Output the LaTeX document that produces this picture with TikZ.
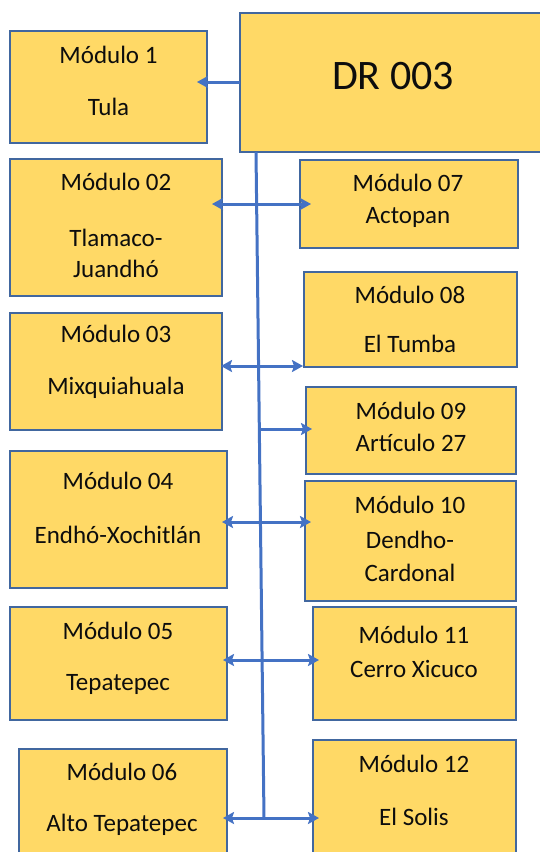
\documentclass[tikz,border=0pt]{standalone}
\usepackage{fontspec}
\setmainfont{Carlito}
\usetikzlibrary{arrows.meta}
\definecolor{boxfill}{HTML}{FFD966}
\definecolor{boxline}{HTML}{41679F}
\definecolor{conn}{HTML}{4472C4}
\definecolor{ink}{HTML}{0D0D0D}
\tikzset{
  box/.style={draw=boxline, fill=boxfill, line width=1.3pt, anchor=north west, inner sep=0pt, outer sep=0pt},
  txt/.style={inner sep=0pt, text=ink, font=\fontsize{25}{30}\selectfont},
  big/.style={inner sep=0pt, text=ink, font=\fontsize{42}{50}\selectfont},
  conline/.style={draw=conn, line width=3pt},
  tip/.style={-{Stealth[length=11pt,width=12pt,inset=2pt]}},
  tips/.style={{Stealth[length=11pt,width=12pt,inset=2pt]}-{Stealth[length=11pt,width=12pt,inset=2pt]}}
}
\begin{document}
\begin{tikzpicture}[x=1pt,y=-1pt]
\useasboundingbox (0,0) rectangle (540,852);
\clip (0,0) rectangle (540,852);
% boxes
\node[box, minimum width=197pt, minimum height=112pt] (m1) at (10,31) {};
\node[box, minimum width=310pt, minimum height=139pt] (dr) at (240,13) {};
\node[box, minimum width=212pt, minimum height=137pt] (m2) at (10,159) {};
\node[box, minimum width=218pt, minimum height=88pt] (m7) at (300,160) {};
\node[box, minimum width=213pt, minimum height=95pt] (m8) at (304,272) {};
\node[box, minimum width=212pt, minimum height=117pt] (m3) at (10,313) {};
\node[box, minimum width=210pt, minimum height=87pt] (m9) at (306,387) {};
\node[box, minimum width=217pt, minimum height=137pt] (m4) at (10,451) {};
\node[box, minimum width=211pt, minimum height=120pt] (m10) at (305,481) {};
\node[box, minimum width=217pt, minimum height=113pt] (m5) at (10,607) {};
\node[box, minimum width=203pt, minimum height=113pt] (m11) at (313,607) {};
\node[box, minimum width=208pt, minimum height=120pt] (m6) at (19,749) {};
\node[box, minimum width=203pt, minimum height=130pt] (m12) at (313,740) {};
% texts
\node[big] (drt) at (393,76) {DR 003};
\node[txt] (m1a) at (108.5,55) {Módulo 1};
\node[txt] (m1b) at (108.5,107) {Tula};
\node[txt] (m2a) at (116,182) {Módulo 02};
\node[txt] (m2b) at (116,238) {Tlamaco-};
\node[txt] (m2c) at (116,269) {Juandhó};
\node[txt] (m7a) at (408,183) {Módulo 07};
\node[txt] (m7b) at (408,217) {Actopan};
\node[txt] (m8a) at (410,295) {Módulo 08};
\node[txt] (m8b) at (410,344) {El Tumba};
\node[txt] (m3a) at (116,334) {Módulo 03};
\node[txt] (m3b) at (116,388) {Mixquiahuala};
\node[txt] (m9a) at (411,411) {Módulo 09};
\node[txt] (m9b) at (411,443) {Artículo 27};
\node[txt] (m4a) at (118,481) {Módulo 04};
\node[txt] (m4b) at (118,535) {Endhó-Xochitlán};
\node[txt] (m10a) at (410,505) {Módulo 10};
\node[txt] (m10b) at (410,540) {Dendho-};
\node[txt] (m10c) at (410,573) {Cardonal};
\node[txt] (m5a) at (118,631) {Módulo 05};
\node[txt] (m5b) at (118,684) {Tepatepec};
\node[txt] (m11a) at (414,635) {Módulo 11};
\node[txt] (m11b) at (414,669) {Cerro Xicuco};
\node[txt] (m6a) at (122,772) {Módulo 06};
\node[txt] (m6b) at (122,825) {Alto Tepatepec};
\node[txt] (m12a) at (414,764) {Módulo 12};
\node[txt] (m12b) at (414,817) {El Solis};
% connector coordinates
\coordinate (t1) at (197,82);
\coordinate (trTop) at (256,152);
\coordinate (trBot) at (264,818);
\coordinate (l2) at (212,204);
\coordinate (r2) at (311,204);
\coordinate (l3) at (221,366);
\coordinate (r3) at (303,366);
\coordinate (s9) at (258,429);
\coordinate (r9) at (312,429);
\coordinate (l4) at (222,522);
\coordinate (r4) at (311,522);
\coordinate (l5) at (223,660);
\coordinate (r5) at (319,660);
\coordinate (l6) at (223,818);
\coordinate (r6) at (319,818);
% connectors
\draw[conline, tip] (dr.west |- t1) -- (t1);
\draw[conline] (trTop) -- (trBot);
\draw[conline, tips] (l2) -- (r2);
\draw[conline, tips] (l3) -- (r3);
\draw[conline, tip] (s9) -- (r9);
\draw[conline, tips] (l4) -- (r4);
\draw[conline, tips] (l5) -- (r5);
\draw[conline, tips] (l6) -- (r6);
\end{tikzpicture}
\end{document}
